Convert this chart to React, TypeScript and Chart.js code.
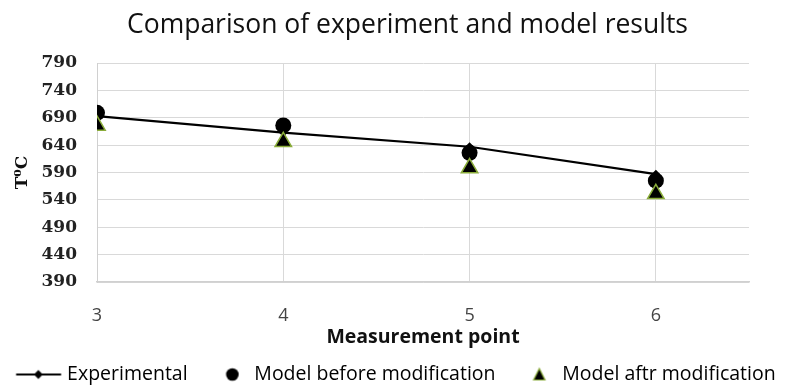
import React, { useEffect, useRef } from 'react';
import { Chart, registerables } from 'chart.js';

Chart.register(...registerables);

// ---- data ----
const measurementPoints = [3, 4, 5, 6];
const experimental = [693, 663, 637, 587];
const modelBefore = [699, 676, 626, 575];
const modelAfter = [676, 646, 598, 551];
const seriesLabels = ['Experimental', 'Model before modification', 'Model aftr modification'];
const chartTitle = 'Comparison of experiment and model results';
const xAxisTitle = 'Measurement point';
const yAxisTitle = 'T\u2070C';
const yMin = 390;
const yMax = 790;
const yStep = 50;
const xMin = 3;
const xMax = 6.5;
const xStep = 1;

// ---- style constants ----
const W = 793;
const H = 387;
const LEGEND_FONT = 19.5;
const LEGEND_BOX = 40;
const LEGEND_IMG_W = 52;
const LEGEND_PAD = 17;
const LEGEND_HEIGHT = 39.25;
const TRIANGLE_GREEN = '#8aac3a';

function makeSymbol(kind: string): HTMLCanvasElement {
  const c = document.createElement('canvas');
  c.width = LEGEND_IMG_W;
  c.height = 16;
  const ctx = c.getContext('2d')!;
  ctx.fillStyle = '#000';
  ctx.strokeStyle = '#000';
  if (kind === 'line') {
    ctx.lineWidth = 2;
    ctx.beginPath();
    ctx.moveTo(4.75, 8);
    ctx.lineTo(49.75, 8);
    ctx.stroke();
    ctx.beginPath();
    ctx.moveTo(27, 3.5);
    ctx.lineTo(31.5, 8);
    ctx.lineTo(27, 12.5);
    ctx.lineTo(22.5, 8);
    ctx.closePath();
    ctx.fill();
  } else if (kind === 'circle') {
    ctx.beginPath();
    ctx.arc(33.75, 8, 6.3, 0, Math.PI * 2);
    ctx.fill();
  } else {
    ctx.beginPath();
    ctx.moveTo(32.75, 2);
    ctx.lineTo(38.5, 13.5);
    ctx.lineTo(27, 13.5);
    ctx.closePath();
    ctx.fill();
    ctx.strokeStyle = TRIANGLE_GREEN;
    ctx.lineWidth = 1.2;
    ctx.stroke();
  }
  return c;
}

const layoutTweaks = {
  id: 'layoutTweaks',
  beforeLayout(chart: any) {
    const lg = chart.legend;
    if (lg && !lg.__patched) {
      const origFit = lg.fit;
      lg.fit = function () {
        origFit.call(this);
        this.height = LEGEND_HEIGHT;
      };
      lg.__patched = true;
    }
  },
  afterLayout(chart: any) {
    const t = chart.titleBlock;
    if (t) {
      t.left += 22;
    }
  },
};

export default function App() {
  const ref = useRef<HTMLCanvasElement | null>(null);

  useEffect(() => {
    if (!ref.current) return;
    const symbols = [makeSymbol('line'), makeSymbol('circle'), makeSymbol('triangle')];
    const toPts = (vals: number[]) => measurementPoints.map((x, i) => ({ x, y: vals[i] }));

    const chart = new Chart(ref.current, {
      type: 'scatter',
      data: {
        datasets: [
          {
            label: seriesLabels[0],
            data: toPts(experimental),
            showLine: true,
            borderColor: '#000',
            backgroundColor: '#000',
            borderWidth: 2.2,
            pointStyle: 'rectRot',
            pointRadius: 4.5,
            pointBorderWidth: 0,
            order: 1,
          },
          {
            label: seriesLabels[1],
            data: toPts(modelBefore),
            showLine: false,
            borderColor: '#000',
            backgroundColor: '#000',
            pointStyle: 'circle',
            pointRadius: 8,
            pointBorderWidth: 0,
            order: 2,
          },
          {
            label: seriesLabels[2],
            data: toPts(modelAfter),
            showLine: false,
            borderColor: TRIANGLE_GREEN,
            backgroundColor: '#000',
            pointStyle: 'triangle',
            pointRadius: 9.5,
            pointBorderWidth: 1.5,
            order: 0,
          },
        ],
      },
      options: {
        responsive: false,
        animation: false,
        layout: { padding: 0 },
        plugins: {
          tooltip: { enabled: false },
          title: {
            display: true,
            text: chartTitle,
            color: '#111',
            font: { family: '"Open Sans", sans-serif', size: 26.5, weight: 'normal' },
            padding: { top: 9.1, bottom: 22.1 },
          },
          legend: {
            display: true,
            position: 'bottom',
            labels: {
              color: '#000',
              font: { family: '"Open Sans", sans-serif', size: LEGEND_FONT },
              usePointStyle: true,
              pointStyleWidth: LEGEND_BOX,
              boxWidth: LEGEND_BOX,
              padding: LEGEND_PAD,
              generateLabels: () =>
                seriesLabels.map((text, i) => ({
                  text,
                  datasetIndex: i,
                  pointStyle: symbols[i] as any,
                  fillStyle: '#000',
                  strokeStyle: '#000',
                  lineWidth: 0,
                  hidden: false,
                  fontColor: '#000',
                })),
            },
          },
        },
        scales: {
          x: {
            type: 'linear',
            position: 'bottom',
            min: xMin,
            max: xMax,
            afterBuildTicks: (axis: any) => {
              axis.ticks = axis.ticks.filter((t: any) => Number.isInteger(t.value));
            },
            afterFit: (scale: any) => {
              scale.height = 65.75;
            },
            ticks: {
              stepSize: xStep,
              padding: 23,
              color: '#444',
              font: { family: '"Open Sans", sans-serif', size: 18 },
            },
            grid: { color: '#d9d9d9', lineWidth: 1, drawTicks: false },
            border: { color: '#d0d0d0', width: 1.5 },
            title: {
              display: true,
              text: xAxisTitle,
              color: '#111',
              font: { family: '"Open Sans", sans-serif', size: 19.5, weight: 'bold', lineHeight: 1.1 },
              padding: { top: 0, bottom: 0 },
            },
          },
          y: {
            type: 'linear',
            position: 'left',
            min: yMin,
            max: yMax,
            afterFit: (scale: any) => {
              scale.width = 97;
            },
            ticks: {
              stepSize: yStep,
              padding: 20,
              color: '#222',
              font: { family: '"DejaVu Serif", serif', size: 17, weight: 'bold' },
            },
            grid: { color: '#d9d9d9', lineWidth: 1, drawTicks: false },
            border: { color: '#d0d0d0', width: 1 },
            title: {
              display: true,
              text: yAxisTitle,
              color: '#111',
              font: { family: '"DejaVu Serif", serif', size: 17, weight: 'bold' },
              padding: { top: 12, bottom: 0 },
            },
          },
          yRight: {
            type: 'linear',
            position: 'right',
            min: yMin,
            max: yMax,
            display: true,
            afterFit: (scale: any) => {
              scale.width = 44;
            },
            ticks: { display: false },
            grid: { display: false, drawTicks: false },
            border: { display: false },
          },
        },
      },
      plugins: [layoutTweaks],
    });
    return () => chart.destroy();
  }, []);

  return (
    <div style={{ position: 'fixed', left: 0, top: 0, width: W, height: H, background: '#fff' }}>
      <canvas ref={ref} width={W} height={H} style={{ display: 'block' }} />
    </div>
  );
}
